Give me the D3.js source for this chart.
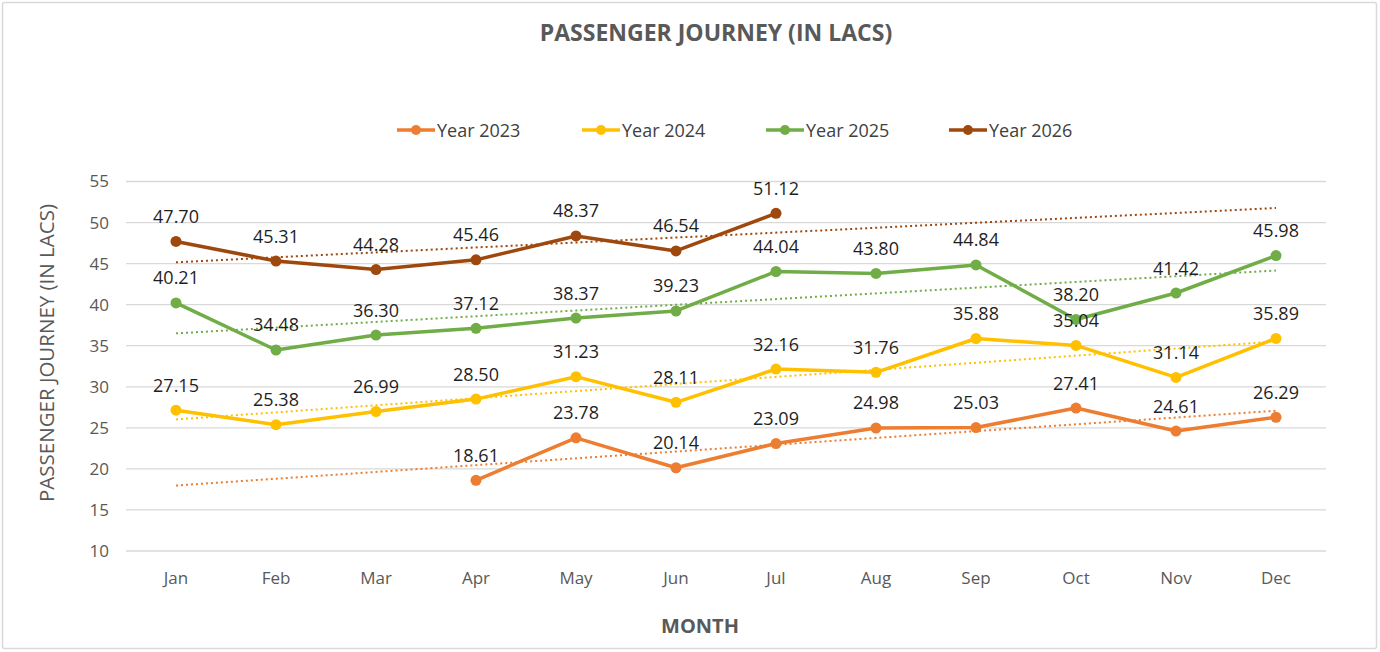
<!DOCTYPE html>
<html>
<head>
<meta charset="utf-8">
<script src="https://cdn.jsdelivr.net/npm/d3@7/dist/d3.min.js"></script>
<style>
  html, body { margin: 0; padding: 0; background: #fff; }
  svg { display: block; font-family: "Open Sans", "Noto Sans", sans-serif; }
</style>
</head>
<body>
<svg id="chart" width="1380" height="652"></svg>
<script>
const months = ["Jan","Feb","Mar","Apr","May","Jun","Jul","Aug","Sep","Oct","Nov","Dec"];
const seriesNames = ["Year 2023","Year 2024","Year 2025","Year 2026"];
const seriesColors = ["#ED7D31","#FFC000","#70AD47","#9E480E"];
const year2023 = [null,null,null,18.61,23.78,20.14,23.09,24.98,25.03,27.41,24.61,26.29];
const year2024 = [27.15,25.38,26.99,28.50,31.23,28.11,32.16,31.76,35.88,35.04,31.14,35.89];
const year2025 = [40.21,34.48,36.30,37.12,38.37,39.23,44.04,43.80,44.84,38.20,41.42,45.98];
const year2026 = [47.70,45.31,44.28,45.46,48.37,46.54,51.12,null,null,null,null,null];
const yTicks = [10,15,20,25,30,35,40,45,50,55];
const chartTitle = "PASSENGER JOURNEY (IN LACS)";
const xTitle = "MONTH";
const yTitle = "PASSENGER JOURNEY (IN LACS)";

const seriesValues = [year2023, year2024, year2025, year2026];

const svg = d3.select("#chart");
const W = 1380, H = 652;
const plot = { left: 126, right: 1326, top: 181.5, bottom: 551 };

// border
svg.append("rect").attr("x", 2.5).attr("y", 2.5).attr("width", W - 6).attr("height", H - 6)
  .attr("fill", "#fff").attr("stroke", "#d9d9d9").attr("stroke-width", 1.5).attr("rx", 2);

const x = d3.scaleBand().domain(months).range([plot.left, plot.right]);
const cx = m => x(m) + x.bandwidth() / 2;
const y = d3.scaleLinear().domain([10, 55]).range([plot.bottom, plot.top]);

// gridlines
svg.append("g").selectAll("line").data(yTicks).join("line")
  .attr("x1", plot.left).attr("x2", plot.right)
  .attr("y1", d => y(d)).attr("y2", d => y(d))
  .attr("stroke", "#d9d9d9").attr("stroke-width", 1.3);

// y axis labels
const yAxis = d3.axisLeft(y).tickValues(yTicks).tickSize(0).tickPadding(0).tickFormat(d3.format("d"));
const gy = svg.append("g").attr("transform", `translate(${plot.left - 17},0)`).call(yAxis);
gy.select(".domain").remove();
gy.selectAll("text").attr("fill", "#595959").style("font-size", "17px").style("font-family", "Open Sans");

// x axis labels
const xAxis = d3.axisBottom(x).tickSize(0).tickPadding(0);
const gx = svg.append("g").attr("transform", `translate(0,${plot.bottom + 21})`).call(xAxis);
gx.select(".domain").remove();
gx.selectAll("text").attr("fill", "#595959").style("font-size", "17px").style("font-family", "Open Sans");

// titles
svg.append("text").attr("x", 716).attr("y", 41).attr("text-anchor", "middle")
  .attr("fill", "#595959").style("font-size", "23px").style("font-weight", "700").text(chartTitle);
svg.append("text").attr("x", 700).attr("y", 633).attr("text-anchor", "middle")
  .attr("fill", "#595959").style("font-size", "20px").style("font-weight", "700").text(xTitle);
svg.append("text").attr("transform", `translate(54,353) rotate(-90)`)
  .attr("text-anchor", "middle").attr("fill", "#595959").style("font-size", "20.5px").text(yTitle);

// legend
const legendX = [397, 582, 766, 949];
const lg = svg.append("g");
seriesNames.forEach((name, i) => {
  const g = lg.append("g").attr("transform", `translate(${legendX[i]},130)`);
  g.append("line").attr("x1", 0).attr("x2", 38).attr("y1", 0).attr("y2", 0)
    .attr("stroke", seriesColors[i]).attr("stroke-width", 3.5);
  g.append("circle").attr("cx", 19).attr("cy", 0).attr("r", 5).attr("fill", seriesColors[i]);
  g.append("text").attr("x", 40).attr("y", 6.5).attr("fill", "#404040")
    .style("font-size", "18px").text(name);
});

// trendlines (linear least squares over months present, drawn Jan–Dec)
const trendG = svg.append("g");
seriesValues.forEach((vals, i) => {
  const pts = vals.map((v, k) => ({ k: k + 1, v })).filter(p => p.v != null);
  const mx = d3.mean(pts, p => p.k), my = d3.mean(pts, p => p.v);
  const sxy = d3.sum(pts, p => (p.k - mx) * (p.v - my));
  const sxx = d3.sum(pts, p => (p.k - mx) ** 2);
  const slope = sxy / sxx, icpt = my - slope * mx;
  const ends = [1, months.length];
  trendG.append("line")
    .attr("x1", cx(months[0])).attr("x2", cx(months[months.length - 1]))
    .attr("y1", y(icpt + slope * ends[0])).attr("y2", y(icpt + slope * ends[1]))
    .attr("stroke", seriesColors[i]).attr("stroke-width", 2)
    .attr("stroke-dasharray", "2,3");
});

// lines, markers, labels
const line = d3.line().defined(d => d.v != null).x(d => cx(d.m)).y(d => y(d.v));
seriesValues.forEach((vals, i) => {
  const data = vals.map((v, k) => ({ m: months[k], v }));
  const g = svg.append("g");
  g.append("path").datum(data).attr("d", line).attr("fill", "none")
    .attr("stroke", seriesColors[i]).attr("stroke-width", 3.5).attr("stroke-linejoin", "round");
  const present = data.filter(d => d.v != null);
  g.selectAll("circle").data(present).join("circle")
    .attr("cx", d => cx(d.m)).attr("cy", d => y(d.v)).attr("r", 5.5).attr("fill", seriesColors[i]);
});
const labelG = svg.append("g");
seriesValues.forEach((vals, i) => {
  const present = vals.map((v, k) => ({ m: months[k], v })).filter(d => d.v != null);
  labelG.selectAll(null).data(present).join("text")
    .attr("x", d => cx(d.m)).attr("y", d => y(d.v) - 18.5)
    .attr("text-anchor", "middle").attr("fill", "#1f1f1f")
    .style("font-size", "18px").text(d => d.v.toFixed(2));
});
</script>
</body>
</html>
